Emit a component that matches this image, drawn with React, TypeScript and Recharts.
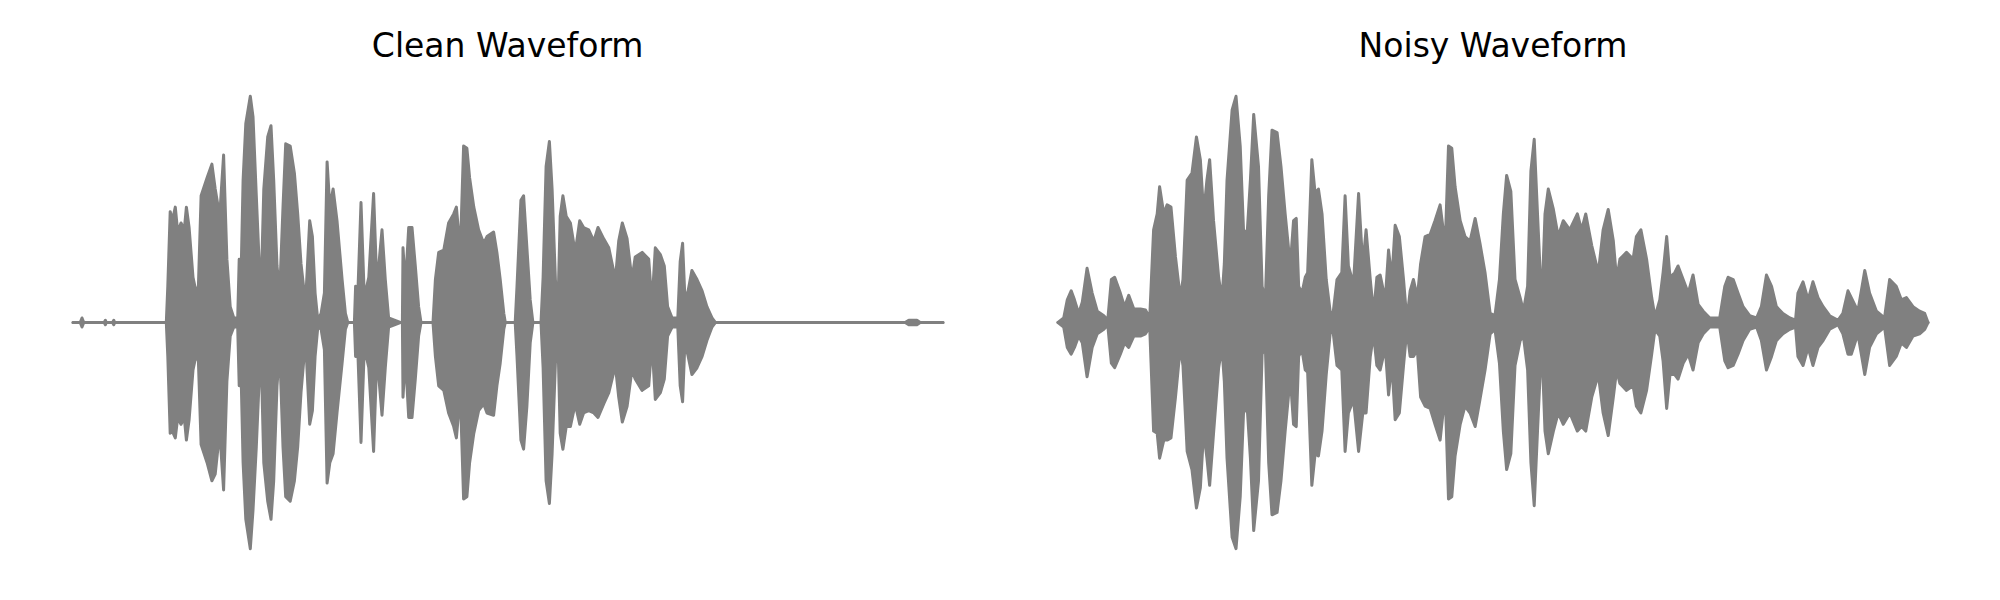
import React from "react";
import { AreaChart, Area, XAxis, YAxis } from "recharts";

// Clean waveform envelope (time in s, upper and lower amplitude, normalised)
const cleanTime = [0.000,0.024,0.030,0.036,0.104,0.108,0.111,0.132,0.136,0.139,0.311,0.316,0.324,0.331,0.341,0.349,0.360,0.371,0.378,0.387,0.400,0.411,0.418,0.427,0.447,0.463,0.474,0.489,0.502,0.513,0.524,0.536,0.549,0.554,0.560,0.567,0.576,0.591,0.600,0.611,0.622,0.627,0.636,0.649,0.660,0.669,0.680,0.689,0.700,0.709,0.724,0.738,0.749,0.760,0.771,0.778,0.789,0.798,0.807,0.816,0.827,0.838,0.847,0.856,0.867,0.880,0.897,0.908,0.916,0.938,0.942,0.949,0.960,0.971,0.986,1.002,1.013,1.030,1.041,1.052,1.091,1.098,1.100,1.108,1.119,1.130,1.141,1.152,1.160,1.200,1.208,1.219,1.236,1.252,1.269,1.278,1.291,1.302,1.313,1.322,1.336,1.352,1.369,1.380,1.402,1.413,1.424,1.436,1.441,1.474,1.480,1.493,1.502,1.513,1.524,1.533,1.560,1.567,1.577,1.588,1.597,1.608,1.616,1.624,1.633,1.644,1.658,1.674,1.689,1.702,1.719,1.736,1.750,1.769,1.786,1.808,1.819,1.831,1.847,1.863,1.874,1.897,1.919,1.930,1.941,1.958,1.971,1.982,1.997,2.016,2.024,2.032,2.039,2.049,2.063,2.080,2.097,2.113,2.130,2.141,2.774,2.786,2.813,2.824,2.900];
const cleanHigh = [0,0,0.02,0,0,0.01,0,0,0.01,0,0,0.16,0.49,0.45,0.51,0.40,0.44,0.41,0.51,0.42,0.20,0.13,0.16,0.56,0.64,0.70,0.59,0.47,0.74,0.28,0.07,0.02,0.02,0.28,0.19,0.63,0.88,1.00,0.91,0.56,0.22,0.14,0.59,0.82,0.87,0.63,0.25,0.13,0.51,0.79,0.78,0.66,0.48,0.26,0.13,0.16,0.45,0.38,0.13,0.01,0.04,0.13,0.71,0.51,0.59,0.45,0.19,0.04,0,0,0.16,0.11,0.53,0.11,0.20,0.57,0.16,0.41,0.19,0.02,0,0,0.33,0.16,0.42,0.42,0.25,0.07,0,0,0.19,0.31,0.32,0.44,0.48,0.51,0.31,0.78,0.77,0.64,0.51,0.41,0.35,0.38,0.40,0.31,0.19,0.04,0,0,0.16,0.54,0.56,0.33,0.10,0,0,0.20,0.69,0.80,0.59,0.19,0.04,0.47,0.56,0.47,0.44,0.31,0.45,0.42,0.41,0.36,0.42,0.37,0.33,0.19,0.36,0.44,0.37,0.19,0.29,0.31,0.28,0.08,0.33,0.30,0.25,0.07,0.02,0.02,0.27,0.35,0.13,0.13,0.23,0.19,0.14,0.07,0.02,0,0,0.01,0.01,0,0];
const cleanLow = [0,0,-0.02,0,0,-0.01,0,0,-0.01,0,0,-0.15,-0.49,-0.48,-0.51,-0.42,-0.45,-0.42,-0.52,-0.43,-0.21,-0.14,-0.17,-0.54,-0.62,-0.70,-0.67,-0.48,-0.74,-0.26,-0.06,-0.02,-0.02,-0.28,-0.21,-0.62,-0.87,-1.00,-0.83,-0.55,-0.21,-0.14,-0.62,-0.79,-0.87,-0.70,-0.28,-0.12,-0.55,-0.77,-0.79,-0.70,-0.55,-0.31,-0.14,-0.15,-0.45,-0.39,-0.15,-0.02,-0.03,-0.12,-0.71,-0.62,-0.58,-0.40,-0.18,-0.03,0,0,-0.15,-0.11,-0.53,-0.11,-0.20,-0.57,-0.14,-0.41,-0.20,-0.02,0,0,-0.33,-0.15,-0.42,-0.42,-0.25,-0.06,0,0,-0.15,-0.28,-0.30,-0.40,-0.46,-0.51,-0.31,-0.78,-0.77,-0.62,-0.49,-0.39,-0.36,-0.40,-0.41,-0.28,-0.18,-0.03,0,0,-0.15,-0.52,-0.56,-0.37,-0.09,0,0,-0.20,-0.70,-0.80,-0.58,-0.18,-0.05,-0.49,-0.56,-0.46,-0.46,-0.36,-0.45,-0.40,-0.39,-0.40,-0.42,-0.36,-0.31,-0.19,-0.33,-0.44,-0.37,-0.21,-0.25,-0.30,-0.28,-0.09,-0.34,-0.31,-0.25,-0.06,-0.02,-0.02,-0.28,-0.35,-0.11,-0.14,-0.23,-0.20,-0.15,-0.08,-0.02,0,0,-0.01,-0.01,0,0];

// Noisy waveform envelope
const noisyTime = [0.000,0.019,0.031,0.044,0.055,0.069,0.081,0.097,0.114,0.131,0.153,0.166,0.178,0.189,0.208,0.222,0.236,0.253,0.275,0.292,0.306,0.319,0.331,0.339,0.353,0.364,0.377,0.392,0.408,0.417,0.431,0.447,0.462,0.475,0.486,0.497,0.506,0.519,0.536,0.547,0.555,0.564,0.581,0.594,0.608,0.619,0.631,0.642,0.653,0.669,0.681,0.692,0.703,0.714,0.731,0.744,0.758,0.775,0.786,0.795,0.803,0.814,0.825,0.833,0.847,0.858,0.869,0.881,0.895,0.908,0.917,0.931,0.947,0.958,0.969,0.986,1.003,1.017,1.028,1.042,1.053,1.064,1.075,1.092,1.103,1.114,1.125,1.139,1.153,1.164,1.175,1.186,1.199,1.210,1.225,1.242,1.258,1.275,1.292,1.303,1.314,1.325,1.342,1.358,1.375,1.392,1.408,1.425,1.442,1.458,1.473,1.486,1.497,1.511,1.525,1.542,1.553,1.567,1.578,1.589,1.600,1.614,1.625,1.636,1.653,1.669,1.686,1.708,1.733,1.747,1.761,1.781,1.803,1.819,1.836,1.853,1.864,1.875,1.897,1.919,1.930,1.945,1.964,1.981,1.992,2.008,2.019,2.031,2.042,2.058,2.069,2.086,2.103,2.119,2.136,2.153,2.175,2.208,2.225,2.236,2.253,2.269,2.286,2.308,2.331,2.347,2.364,2.381,2.397,2.419,2.442,2.461,2.469,2.486,2.503,2.519,2.536,2.553,2.575,2.603,2.619,2.636,2.647,2.669,2.692,2.708,2.731,2.758,2.775,2.797,2.814,2.831,2.853,2.875,2.892,2.903];
const noisyHigh = [0,0.02,0.10,0.14,0.10,0.04,0.09,0.24,0.13,0.05,0.03,0.01,0.19,0.20,0.13,0.07,0.12,0.06,0.06,0.055,0.02,0.41,0.48,0.60,0.48,0.52,0.51,0.29,0.11,0.19,0.63,0.66,0.82,0.72,0.48,0.63,0.72,0.45,0.20,0.10,0.26,0.63,0.94,1.00,0.78,0.41,0.39,0.63,0.92,0.69,0.16,0.10,0.56,0.85,0.84,0.69,0.48,0.25,0.45,0.46,0.16,0.13,0.20,0.22,0.72,0.57,0.59,0.48,0.19,0.05,0.03,0.19,0.22,0.56,0.25,0.17,0.57,0.25,0.41,0.19,0.04,0.20,0.21,0.10,0.32,0.19,0.43,0.38,0.19,0.01,0.14,0.19,0.11,0.26,0.38,0.39,0.45,0.52,0.34,0.78,0.77,0.60,0.45,0.38,0.36,0.46,0.35,0.22,0.04,0.03,0.19,0.48,0.65,0.58,0.19,0.11,0.05,0.16,0.67,0.81,0.48,0.07,0.48,0.59,0.50,0.38,0.45,0.41,0.48,0.41,0.48,0.34,0.22,0.41,0.50,0.36,0.19,0.28,0.31,0.28,0.38,0.41,0.28,0.11,0.025,0.10,0.22,0.38,0.20,0.22,0.25,0.19,0.13,0.21,0.08,0.05,0.02,0.02,0.16,0.20,0.19,0.13,0.07,0.03,0.02,0.07,0.21,0.16,0.07,0.04,0.02,0.01,0.13,0.18,0.10,0.18,0.11,0.07,0.03,0.01,0.04,0.14,0.11,0.05,0.23,0.13,0.05,0.02,0.19,0.16,0.10,0.11,0.07,0.05,0.04,0];
const noisyLow = [0,-0.02,-0.11,-0.14,-0.11,-0.06,-0.09,-0.24,-0.11,-0.05,-0.03,-0.01,-0.18,-0.20,-0.14,-0.09,-0.11,-0.06,-0.06,-0.05,-0.02,-0.48,-0.49,-0.60,-0.52,-0.52,-0.51,-0.33,-0.11,-0.19,-0.57,-0.65,-0.82,-0.73,-0.48,-0.60,-0.72,-0.49,-0.20,-0.11,-0.26,-0.60,-0.95,-1.00,-0.77,-0.40,-0.37,-0.60,-0.92,-0.70,-0.14,-0.11,-0.62,-0.85,-0.84,-0.70,-0.48,-0.24,-0.45,-0.46,-0.15,-0.12,-0.21,-0.22,-0.72,-0.58,-0.59,-0.48,-0.23,-0.05,-0.03,-0.19,-0.21,-0.57,-0.40,-0.34,-0.57,-0.40,-0.40,-0.15,-0.05,-0.19,-0.21,-0.11,-0.32,-0.18,-0.43,-0.40,-0.19,-0.03,-0.15,-0.15,-0.12,-0.33,-0.37,-0.38,-0.45,-0.52,-0.31,-0.78,-0.77,-0.59,-0.45,-0.37,-0.40,-0.46,-0.34,-0.21,-0.05,-0.03,-0.18,-0.48,-0.65,-0.58,-0.19,-0.08,-0.06,-0.21,-0.62,-0.81,-0.48,-0.08,-0.48,-0.58,-0.48,-0.40,-0.45,-0.40,-0.48,-0.46,-0.48,-0.33,-0.23,-0.40,-0.50,-0.33,-0.21,-0.27,-0.30,-0.28,-0.37,-0.40,-0.30,-0.14,-0.03,-0.06,-0.17,-0.38,-0.23,-0.23,-0.25,-0.18,-0.14,-0.21,-0.09,-0.05,-0.02,-0.02,-0.17,-0.20,-0.19,-0.14,-0.08,-0.03,-0.02,-0.08,-0.21,-0.15,-0.08,-0.05,-0.03,-0.02,-0.15,-0.19,-0.11,-0.19,-0.11,-0.08,-0.03,-0.01,-0.05,-0.14,-0.14,-0.05,-0.23,-0.11,-0.05,-0.02,-0.19,-0.15,-0.09,-0.11,-0.06,-0.05,-0.03,0];

const titles = ["Clean Waveform", "Noisy Waveform"];

const build = (t: number[], hi: number[], lo: number[]) =>
  t.map((x, i) => ({ t: x, range: [lo[i], hi[i]] }));

const cleanData = build(cleanTime, cleanHigh, cleanLow);
const noisyData = build(noisyTime, noisyHigh, noisyLow);

const GRAY = "#808080";

function Wave({ data, xMax, left }: { data: any[]; xMax: number; left: number }) {
  return (
    <div style={{ position: "absolute", left, top: 85 }}>
      <AreaChart width={890} height={475} data={data} margin={{ top: 0, right: 10, bottom: 0, left: 10 }}>
        <XAxis dataKey="t" type="number" domain={[0, xMax]} hide />
        <YAxis type="number" domain={[-1.05, 1.05]} hide />
        <Area
          type="linear"
          dataKey="range"
          stroke={GRAY}
          strokeWidth={3}
          strokeLinejoin="round"
          strokeLinecap="round"
          fill={GRAY}
          fillOpacity={1}
          dot={false}
          activeDot={false}
          isAnimationActive={false}
        />
      </AreaChart>
    </div>
  );
}

export default function App() {
  return (
    <div style={{ position: "fixed", left: 0, top: 0, width: 2000, height: 600, background: "#fff" }}>
      <Wave data={cleanData} xMax={2.9} left={62.7} />
      <Wave data={noisyData} xMax={2.903} left={1047.5} />
      <svg width={2000} height={600} style={{ position: "absolute", left: 0, top: 0, pointerEvents: "none" }}>
        <text x={507.7} y={57} textAnchor="middle" fontFamily="DejaVu Sans" fontSize={33} fill="#000">
          {titles[0]}
        </text>
        <text x={1493} y={57} textAnchor="middle" fontFamily="DejaVu Sans" fontSize={33} fill="#000">
          {titles[1]}
        </text>
      </svg>
    </div>
  );
}
